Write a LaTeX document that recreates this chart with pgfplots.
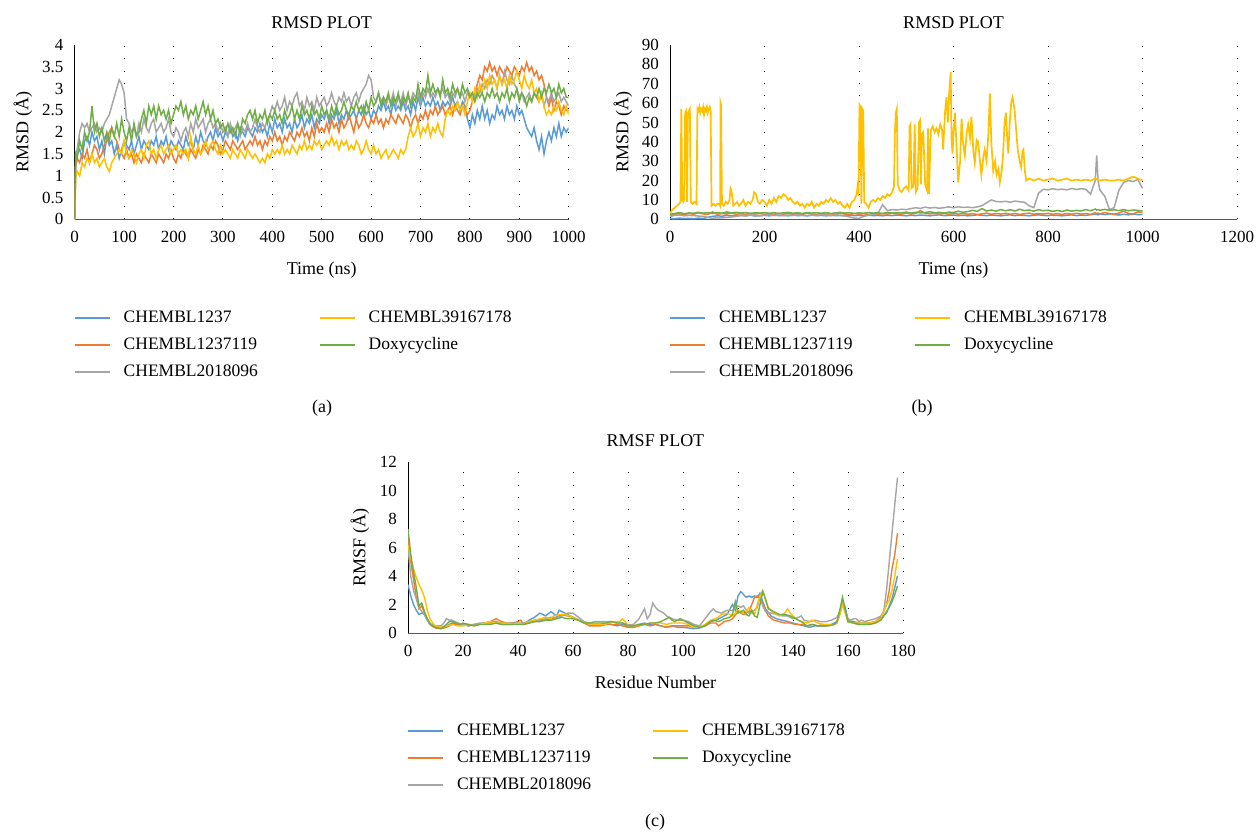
\documentclass[border=0pt]{standalone}
\usepackage{fontspec}
\setmainfont{Liberation Serif}
\usepackage{pgfplots}
\usepackage{pgfplotstable}
\pgfplotsset{compat=1.18}
\definecolor{cB}{HTML}{5B9BD5}
\definecolor{cO}{HTML}{ED7D31}
\definecolor{cG}{HTML}{A5A5A5}
\definecolor{cY}{HTML}{FFC000}
\definecolor{cD}{HTML}{70AD47}

% panel (a): t, CHEMBL1237, CHEMBL1237119, CHEMBL2018096, CHEMBL39167178, Doxycycline
\pgfplotstableread{
t b o g y d
0 0 0 0 0 0
2 1.3 1.2 1.5 1.0 1.5
5 1.5 1.4 1.6 1.1 1.4
10 1.6 1.3 2.0 1.0 1.8
15 1.4 1.5 2.2 1.3 1.6
20 1.8 1.4 2.1 1.2 2.0
25 1.9 1.6 2.2 1.4 1.8
30 1.7 1.3 2.0 1.3 2.0
35 2.0 1.5 2.1 1.5 2.6
40 1.8 1.7 2.2 1.3 2.0
45 1.9 1.6 2.0 1.4 2.2
50 1.6 1.4 2.1 1.2 1.9
55 1.8 1.5 2.0 1.3 2.1
60 1.5 1.7 2.2 1.4 1.8
65 1.9 1.8 2.3 1.2 2.0
70 1.7 2.0 2.4 1.1 1.8
75 1.8 2.1 2.6 1.3 2.1
80 1.5 1.9 2.8 1.4 1.9
85 1.7 1.8 3.0 1.5 2.2
90 1.4 1.6 3.2 1.6 1.9
95 1.6 1.5 3.1 1.5 2.3
100 1.8 1.4 2.9 1.8 2.0
105 1.7 1.6 2.3 1.5 1.8
110 1.6 1.4 2.2 1.4 2.1
115 1.8 1.5 2.0 1.6 1.8
120 1.5 1.3 2.1 1.5 2.2
125 1.7 1.5 1.9 1.3 1.9
130 1.9 1.4 2.2 1.5 2.0
135 1.6 1.3 2.0 1.6 2.3
140 1.8 1.5 2.3 1.4 2.5
145 1.7 1.4 2.1 1.7 2.2
150 1.6 1.3 2.0 1.8 2.6
155 1.8 1.5 2.2 1.5 2.4
160 1.7 1.4 2.3 1.6 2.6
165 1.9 1.3 2.0 1.4 2.3
170 1.6 1.5 2.1 1.6 2.6
175 1.8 1.4 2.2 1.7 2.4
180 1.7 1.3 2.0 1.5 2.5
185 1.9 1.5 2.1 1.6 2.3
190 1.6 1.4 2.3 1.7 2.5
195 1.8 1.6 2.0 1.5 2.2
200 1.7 1.4 1.9 1.6 2.4
205 1.6 1.3 2.1 1.7 2.6
210 1.8 1.5 2.0 1.5 2.5
215 1.7 1.4 1.8 1.6 2.7
220 1.6 1.6 2.0 1.5 2.4
225 1.9 1.5 2.1 1.6 2.6
230 1.7 1.4 1.9 1.4 2.3
235 1.8 1.6 2.2 1.9 2.5
240 1.6 1.5 2.0 1.6 2.4
245 1.9 1.4 2.3 1.5 2.6
250 1.7 1.6 2.1 1.7 2.3
255 2.0 1.5 2.2 1.5 2.5
260 1.8 1.7 2.3 1.6 2.7
265 1.7 1.6 2.0 1.8 2.4
270 1.9 1.5 2.2 1.6 2.6
275 2.0 1.7 2.3 1.7 2.3
280 1.8 1.6 2.1 1.8 2.5
285 2.1 1.8 2.2 1.6 2.2
290 1.9 1.7 2.0 1.5 2.3
295 2.0 1.5 2.2 1.7 2.1
300 1.8 1.6 2.0 1.5 2.2
305 2.0 1.8 2.1 1.6 2.0
310 1.9 1.7 1.9 1.5 2.2
315 2.1 1.6 2.2 1.4 2.0
320 1.9 1.8 2.0 1.6 2.1
325 2.0 1.7 2.1 1.5 1.9
330 1.8 1.6 2.2 1.4 2.2
335 2.1 1.7 1.9 1.6 2.0
340 2.0 1.8 2.1 1.5 2.3
345 1.9 1.6 2.0 1.4 2.2
350 2.1 1.7 2.2 1.6 2.4
355 2.0 1.8 2.0 1.5 2.5
360 1.9 1.7 2.1 1.4 2.3
365 2.1 1.9 2.3 1.5 2.5
370 2.0 1.7 2.1 1.4 2.2
375 2.2 1.8 2.0 1.3 2.4
380 2.0 1.6 2.2 1.4 2.3
385 2.1 1.8 2.1 1.3 2.5
390 1.9 1.7 2.3 1.5 2.2
395 2.2 1.9 2.4 1.4 2.4
400 2.0 1.8 2.6 1.6 2.3
405 2.3 2.0 2.5 1.5 2.5
410 2.1 1.8 2.7 1.6 2.3
415 2.2 1.9 2.5 1.5 2.4
420 2.0 1.7 2.6 1.7 2.2
425 2.3 1.9 2.8 1.5 2.5
430 2.1 1.8 2.5 1.6 2.3
435 2.2 2.0 2.7 1.5 2.4
440 2.0 1.9 2.6 1.7 2.6
445 2.3 1.8 2.8 1.6 2.3
450 2.1 2.0 2.9 1.5 2.5
455 2.2 1.9 2.6 1.7 2.3
460 2.4 2.1 2.7 1.6 2.6
465 2.1 1.9 2.5 1.8 2.4
470 2.3 2.0 2.8 1.6 2.5
475 2.2 1.8 2.6 1.7 2.3
480 2.4 2.1 2.7 1.6 2.6
485 2.1 1.9 2.5 1.8 2.4
490 2.3 2.2 2.8 1.7 2.5
495 2.2 2.0 2.6 1.8 2.3
500 2.4 2.1 2.7 1.6 2.6
505 2.3 2.0 2.8 1.7 2.4
510 2.5 2.2 2.6 1.8 2.5
515 2.2 2.0 2.7 1.7 2.3
520 2.4 2.3 2.9 1.9 2.6
525 2.3 2.1 2.7 1.7 2.4
530 2.5 2.2 2.6 1.8 2.6
535 2.2 2.0 2.8 1.6 2.4
540 2.4 2.3 2.7 1.8 2.5
545 2.3 2.1 2.9 1.7 2.7
550 2.5 2.2 2.7 1.8 2.5
555 2.3 2.4 2.8 1.6 2.4
560 2.4 2.2 2.6 1.7 2.6
565 2.5 2.0 2.8 1.6 2.5
570 2.3 2.3 2.9 1.8 2.7
575 2.5 2.1 2.7 1.7 2.5
580 2.4 2.2 2.9 1.5 2.6
585 2.6 2.4 3.0 1.6 2.4
590 2.4 2.2 3.1 1.8 2.7
595 2.5 2.1 3.3 1.6 2.5
600 2.3 2.3 3.2 1.5 2.8
605 2.5 2.2 2.8 1.7 2.6
610 2.4 2.4 2.7 1.5 2.7
615 2.6 2.2 2.9 1.6 2.9
620 2.5 2.3 2.7 1.4 2.6
625 2.7 2.1 2.8 1.5 2.8
630 2.5 2.3 2.6 1.6 2.7
635 2.6 2.2 2.8 1.4 2.9
640 2.4 2.4 2.7 1.5 2.6
645 2.7 2.3 2.9 1.6 2.8
650 2.5 2.2 2.6 1.5 2.7
655 2.6 2.4 2.8 1.4 2.9
660 2.5 2.3 2.7 1.6 2.6
665 2.7 2.2 2.9 1.5 2.8
670 2.5 2.4 2.6 1.6 2.7
675 2.6 2.3 2.8 1.9 2.9
680 2.4 2.1 2.7 2.1 2.6
685 2.7 2.3 2.9 1.9 2.8
690 2.5 2.4 2.8 2.0 2.7
695 2.8 2.2 2.9 2.2 3.1
700 2.6 2.4 2.7 1.9 2.8
705 2.8 2.3 2.9 2.1 3.0
710 2.6 2.5 2.8 2.0 2.9
715 2.7 2.3 3.0 2.2 3.3
720 2.6 2.5 2.8 1.9 2.9
725 2.8 2.4 2.9 2.1 3.1
730 2.6 2.6 2.8 2.0 2.9
735 2.7 2.4 3.0 2.2 3.0
740 2.5 2.5 2.9 2.0 2.8
745 2.7 2.6 3.0 1.9 3.2
750 2.6 2.4 2.8 2.3 2.9
755 2.7 2.5 2.9 2.5 3.0
760 2.6 2.6 2.7 2.4 2.8
765 2.8 2.4 2.9 2.6 3.1
770 2.6 2.6 2.8 2.5 2.9
775 2.7 2.5 3.0 2.7 3.0
780 2.5 2.4 2.8 2.5 2.8
785 2.7 2.6 2.9 2.6 3.1
790 2.6 2.5 2.7 2.4 2.9
795 2.3 2.4 2.9 2.7 3.0
800 2.1 2.5 2.8 2.9 2.8
805 2.4 2.7 2.9 2.7 2.9
810 2.2 2.9 2.8 3.0 2.7
815 2.5 3.1 3.0 2.8 2.9
820 2.3 3.3 2.9 3.1 2.8
825 2.6 3.2 3.1 2.9 2.9
830 2.3 3.5 3.0 3.2 2.7
835 2.5 3.4 3.2 3.0 2.9
840 2.2 3.6 3.1 3.3 2.8
845 2.4 3.4 3.3 3.1 3.0
850 2.3 3.5 3.2 3.2 2.8
855 2.6 3.3 3.0 3.0 2.9
860 2.4 3.5 3.3 3.3 2.7
865 2.5 3.4 3.1 3.1 2.9
870 2.3 3.3 3.4 3.2 2.8
875 2.6 3.5 3.2 3.0 3.0
880 2.4 3.4 3.1 3.3 2.7
885 2.5 3.3 3.3 3.1 2.9
890 2.3 3.5 3.1 3.2 2.8
895 2.6 3.4 3.0 3.4 3.0
900 2.4 3.3 2.8 3.2 2.7
905 2.5 3.5 2.9 3.0 2.9
910 2.3 3.4 2.7 3.3 2.8
915 2.1 3.6 2.8 3.1 2.6
920 2.0 3.4 2.9 3.0 2.8
925 1.9 3.5 2.7 3.2 2.7
930 2.1 3.3 2.9 2.9 2.9
935 1.8 3.4 2.8 3.0 2.8
940 1.6 3.2 2.7 2.7 3.0
945 1.9 3.3 2.9 2.9 2.8
950 1.5 3.1 2.6 2.6 3.0
955 1.8 2.8 2.8 2.4 2.9
960 2.0 2.6 2.7 2.5 3.1
965 1.8 2.8 2.9 2.4 2.9
970 2.1 2.5 2.7 2.6 3.0
975 1.9 2.7 2.8 2.5 2.8
980 2.2 2.6 2.9 2.7 3.1
985 1.9 2.4 2.7 2.5 2.9
990 2.1 2.6 2.8 2.4 3.0
995 2.0 2.5 2.7 2.6 2.8
1000 2.1 2.5 2.6 2.4 2.8
}\rmsdA

% panel (b): t, CHEMBL1237, CHEMBL1237119, CHEMBL2018096, Doxycycline
\pgfplotstableread{
t b o g d
0 0.5 2.0 1.5 2.5
10 0.3 2.5 2.0 3.0
20 0.6 2.8 2.2 3.5
30 0.4 2.4 1.8 2.9
40 0.5 3.0 2.0 3.3
50 0.3 2.6 1.9 3.1
60 0.6 3.4 1.7 3.6
70 0.4 2.8 1.5 3.2
80 1.0 2.5 1.0 3.4
90 1.5 3.8 0.5 3.0
100 1.8 2.6 0.8 3.5
110 1.6 3.0 0.7 3.1
120 2.0 2.7 1.0 3.8
130 1.8 3.2 1.2 3.3
140 1.7 2.6 1.5 3.6
150 2.0 2.9 2.0 3.2
160 1.8 2.5 1.8 3.5
170 2.1 3.1 2.2 3.0
180 1.7 2.7 2.0 3.4
190 1.9 3.0 1.8 3.2
200 2.0 2.6 2.1 3.5
210 1.8 2.9 2.3 3.1
220 2.1 2.5 2.0 3.4
230 1.9 3.1 2.2 3.0
240 2.0 2.7 1.9 3.3
250 1.8 3.0 2.2 3.6
260 2.1 2.6 2.0 3.1
270 1.9 2.9 2.3 3.4
280 2.0 2.5 2.1 3.0
290 1.8 3.2 1.9 3.5
300 2.1 2.7 2.2 3.2
310 1.9 2.4 2.0 3.4
320 2.0 3.0 2.3 3.1
330 1.8 2.6 2.1 3.5
340 2.1 2.9 1.9 3.0
350 1.9 2.5 2.2 3.3
360 2.0 3.1 2.0 3.6
370 1.8 2.7 1.8 3.2
380 2.1 2.4 1.2 3.4
390 1.9 3.0 0.6 3.0
400 2.0 2.6 0.5 3.3
410 1.8 2.9 1.5 3.1
420 2.1 2.5 2.2 3.5
430 1.9 3.0 2.5 3.2
440 2.0 2.6 3.0 3.4
450 1.8 2.9 7.5 3.0
460 2.1 2.7 4.5 3.6
470 1.9 3.1 5.0 3.2
480 2.2 2.8 4.8 3.5
490 2.0 2.6 5.2 3.3
500 1.8 3.2 5.0 3.7
510 2.1 2.7 5.5 3.2
520 1.9 3.0 6.0 3.6
530 2.2 4.5 5.6 3.3
540 2.0 3.0 6.3 3.5
550 1.8 2.8 5.8 3.9
560 2.1 3.1 6.1 3.4
570 2.3 2.7 5.7 3.6
580 1.9 3.0 6.0 3.2
590 2.0 2.6 6.4 3.7
600 2.2 3.1 5.9 3.5
610 1.9 2.7 6.5 4.2
620 2.1 3.0 6.1 3.6
630 1.8 2.6 6.3 4.0
640 2.0 2.9 6.0 4.6
650 2.3 2.5 6.4 4.1
660 2.1 2.8 7.0 5.5
670 1.9 3.2 8.5 4.3
680 2.2 2.6 10.0 4.8
690 2.0 3.0 9.2 4.2
700 1.8 2.7 9.0 5.0
710 2.1 3.1 9.3 4.4
720 2.3 2.6 8.8 4.9
730 1.9 3.0 9.4 4.3
740 2.2 2.5 9.1 5.2
750 2.0 2.9 8.8 4.5
760 1.8 3.2 7.0 4.8
770 2.1 2.6 6.0 4.2
780 2.3 3.0 13.5 5.0
790 2.0 2.7 15.5 4.4
800 1.9 3.1 15.2 4.7
810 2.2 2.6 15.8 4.1
820 2.0 2.9 15.3 4.6
830 1.8 2.5 15.6 4.0
840 2.1 3.0 15.2 4.8
850 2.3 2.6 15.9 4.2
860 1.9 3.1 15.4 4.6
870 2.2 2.7 15.8 4.3
880 2.0 3.0 15.5 5.0
890 2.4 2.5 13.0 4.4
900 2.6 3.4 20.0 5.3
903 2.5 3.0 33.0 4.8
906 2.3 3.2 20.0 5.0
910 2.7 2.8 15.0 4.7
920 2.4 3.5 12.0 5.1
930 2.8 3.0 5.0 4.6
940 2.5 2.6 6.0 4.9
950 2.2 3.2 15.0 4.5
960 2.6 4.2 19.0 5.0
970 2.3 3.0 20.0 4.4
980 2.7 2.7 19.5 4.8
990 2.4 3.8 20.5 4.6
1000 2.5 3.5 16.0 4.3
}\rmsdB

\pgfplotsset{
  common/.style={
    scale only axis,
    axis x line=bottom, axis y line=left,
    axis line style={-, line width=0.9pt},
    x axis line style={draw=black!65},
    y axis line style={draw=black},
    major tick length=0pt,
    tick style={draw=none},
    xmajorgrids=true, ymajorgrids=false,
    major x grid style={black, line width=0.9pt, dash pattern=on 0.9pt off 11.4pt},
    /pgf/number format/assume math mode=true,
    /pgf/number format/set thousands separator={},
    tick label style={font=\fontsize{17}{20}\selectfont, inner sep=0pt},
    xticklabel style={anchor=center, yshift=-18pt},
    yticklabel style={anchor=east, xshift=-11pt},
    title style={at={(0.5,1)}, anchor=center, yshift=16pt, font=\fontsize{18}{21}\selectfont},
    label style={font=\fontsize{18}{21}\selectfont},
    xlabel style={at={(0.5,0)}, anchor=center, yshift=-51pt},
    legend columns=2,
    legend cell align=left,
    legend image code/.code={\fill (0pt,-1pt) rectangle (35pt,1pt);},
    legend style={anchor=north west, draw=none, fill=none, inner sep=0pt, outer sep=0pt,
      font=\fontsize{17.5}{21}\selectfont, row sep=11pt,
      nodes={inner sep=0pt, text height=12.5pt, text depth=3.5pt, text width=196pt, align=left},
      /tikz/every odd column/.append style={column sep=14pt},
      /tikz/every even column/.append style={column sep=0pt}},
  },
}

\begin{document}
\begin{tikzpicture}
\useasboundingbox (0,0) rectangle (1256pt,831pt);

% ---------------- (a)
\begin{axis}[common,
  at={(74.7pt,611.7pt)}, anchor=south west,
  width=494pt, height=174.3pt,
  xmin=0, xmax=1000, ymin=0, ymax=4,
  xtick={0,100,...,1000}, ytick={0,0.5,1,1.5,2,2.5,3,3.5,4},
  title={RMSD PLOT}, xlabel={Time (ns)}, ylabel={RMSD (Å)},
  ylabel style={at={(-0.105,0.5)}, anchor=center},
  legend style={at={(0,-0.519)}},
]
\addplot[cB, line width=1.5pt, forget plot] table[x=t, y=b]{\rmsdA};
\addplot[cO, line width=1.5pt, forget plot] table[x=t, y=o]{\rmsdA};
\addplot[cG, line width=1.5pt, forget plot] table[x=t, y=g]{\rmsdA};
\addplot[cY, line width=1.5pt, forget plot] table[x=t, y=y]{\rmsdA};
\addplot[cD, line width=1.5pt, forget plot] table[x=t, y=d]{\rmsdA};
\addlegendimage{fill=cB, draw=none}\addlegendentry{CHEMBL1237}
\addlegendimage{fill=cY, draw=none}\addlegendentry{CHEMBL39167178}
\addlegendimage{fill=cO, draw=none}\addlegendentry{CHEMBL1237119}
\addlegendimage{fill=cD, draw=none}\addlegendentry{Doxycycline}
\addlegendimage{fill=cG, draw=none}\addlegendentry{CHEMBL2018096}
\end{axis}

% ---------------- (b)
\begin{axis}[common,
  at={(670pt,611.7pt)}, anchor=south west,
  width=567pt, height=174.3pt,
  xmin=0, xmax=1200, ymin=0, ymax=90,
  xtick={0,200,...,1200}, ytick={0,10,...,90},
  title={RMSD PLOT}, xlabel={Time (ns)}, ylabel={RMSD (Å)},
  ylabel style={at={(-0.083,0.5)}, anchor=center},
  legend style={at={(0,-0.519)}},
]
\addplot[cB, line width=1.5pt, forget plot] table[x=t, y=b]{\rmsdB};
\addplot[cO, line width=1.5pt, forget plot] table[x=t, y=o]{\rmsdB};
\addplot[cG, line width=1.5pt, forget plot] table[x=t, y=g]{\rmsdB};
\addplot[cY, line width=1.7pt, forget plot] coordinates {
(0,3) (5,5) (10,6) (15,7) (20,8) (22,9) (24,57) (26,10) (28,9) (30,10) (32,55) (34,56) (36,9) (38,55) (40,56) (42,57) (44,9) (48,8) (52,9) (56,8) (58,57) (60,56) (62,58) (64,55) (66,57) (68,56) (70,58) (72,54) (74,57) (76,56) (78,58) (80,55) (82,57) (84,58) (86,56) (88,7) (92,8) (96,7) (100,8) (104,8) (106,7) (107,60) (108,59) (110,8) (114,7) (118,9) (122,8) (126,10) (128,16) (130,15) (134,7) (138,8) (142,9) (146,7) (150,8) (155,10) (160,7) (165,9) (170,8) (175,10) (178,14) (182,13) (186,9) (190,8) (195,10) (200,9) (205,7) (210,10) (215,8) (220,11) (225,9) (230,12) (235,11) (240,13) (245,12) (250,10) (255,11) (260,9) (265,8) (270,9) (275,7) (280,8) (285,6) (290,8) (295,7) (300,9) (305,6) (310,8) (315,7) (320,9) (325,8) (330,10) (335,9) (340,11) (345,9) (350,10) (355,8) (360,9) (365,7) (370,6) (375,8) (380,6) (385,9) (390,10) (395,13) (397,17) (399,12) (401,59) (403,58) (405,8) (407,57) (409,56) (411,9) (415,8) (420,6) (425,9) (430,10) (435,9) (440,11) (445,10) (450,12) (455,11) (460,13) (465,12) (470,14) (474,17) (476,45) (478,55) (480,57) (482,18) (486,15) (490,14) (495,16) (500,17) (505,15) (507,48) (509,49) (511,16) (515,17) (518,49) (520,14) (524,16) (527,50) (529,51) (531,18) (533,44) (536,45) (540,18) (544,15) (546,47) (548,13) (552,46) (556,48) (560,45) (564,47) (568,44) (572,49) (576,46) (578,36) (582,55) (585,63) (588,50) (591,66) (594,76) (596,40) (598,34) (600,45) (603,55) (606,40) (610,19) (614,30) (617,52) (620,40) (624,33) (628,45) (631,49) (635,42) (638,53) (642,35) (645,29) (649,41) (652,40) (656,30) (659,23) (663,32) (666,36) (670,30) (674,45) (677,65) (680,40) (684,25) (688,30) (691,23) (695,26) (698,19) (702,25) (705,34) (708,50) (711,55) (714,40) (716,34) (719,50) (722,60) (725,63) (729,57) (733,45) (736,36) (740,30) (743,27) (746,35) (748,36) (751,25) (754,20) (760,21) (770,20) (780,21) (790,20) (800,20.5) (810,21) (820,20) (830,20.5) (840,21) (850,20) (860,20.5) (870,20) (880,20.5) (890,20) (900,21) (910,20) (920,20.5) (930,20) (940,20) (950,20.5) (960,20) (970,21) (980,22) (990,21) (1000,20)};
\addplot[cD, line width=1.5pt, forget plot] table[x=t, y=d]{\rmsdB};
\addlegendimage{fill=cB, draw=none}\addlegendentry{CHEMBL1237}
\addlegendimage{fill=cY, draw=none}\addlegendentry{CHEMBL39167178}
\addlegendimage{fill=cO, draw=none}\addlegendentry{CHEMBL1237119}
\addlegendimage{fill=cD, draw=none}\addlegendentry{Doxycycline}
\addlegendimage{fill=cG, draw=none}\addlegendentry{CHEMBL2018096}
\end{axis}

% ---------------- (c)
\begin{axis}[common,
  at={(408pt,198pt)}, anchor=south west,
  width=495pt, height=171pt,
  xmin=0, xmax=180, ymin=0, ymax=12,
  xtick={0,20,...,180}, ytick={0,2,...,12},
  title={RMSF PLOT}, xlabel={Residue Number}, ylabel={RMSF (Å)},
  title style={yshift=-1pt},
  xlabel style={yshift=2pt},
  ylabel style={at={(-0.097,0.5)}, anchor=center},
  legend style={at={(0,-0.529)}},
]
\addplot[cB, line width=1.4pt, forget plot] coordinates {
(0,3.4)(1,2.6)(2,2.0)(3,1.6)(4,1.3)(5,1.4)(6,1.3)(7,0.9)(8,0.6)(9,0.5)(10,0.4)(12,0.35)(14,0.5)(16,0.7)(18,0.6)(20,0.6)(22,0.5)(24,0.6)(26,0.6)(28,0.7)(30,0.7)(32,0.8)(34,0.6)(36,0.6)(38,0.6)(40,0.7)(42,0.6)(44,0.9)(46,1.1)(48,1.4)(50,1.2)(52,1.5)(54,1.2)(55,1.6)(57,1.4)(59,1.2)(61,1.0)(63,0.8)(65,0.7)(67,0.6)(70,0.6)(72,0.7)(74,0.6)(76,0.5)(78,0.6)(80,0.5)(82,0.4)(84,0.6)(86,0.7)(88,0.6)(90,0.6)(92,0.5)(94,0.4)(96,0.5)(98,0.4)(100,0.4)(102,0.35)(104,0.3)(106,0.35)(108,0.5)(110,0.8)(112,0.9)(114,1.1)(116,1.3)(118,2.0)(119,1.6)(120,2.6)(121,2.9)(122,2.7)(123,2.5)(124,2.6)(125,2.5)(126,2.6)(127,2.5)(128,2.8)(129,2.2)(130,1.7)(132,1.2)(134,1.0)(136,0.9)(138,0.8)(140,0.7)(142,0.6)(144,0.5)(146,0.4)(148,0.5)(150,0.5)(152,0.5)(154,0.6)(156,0.8)(157,1.4)(158,2.3)(159,1.8)(160,0.9)(162,0.8)(164,0.7)(166,0.7)(168,0.7)(170,0.8)(172,1.0)(174,1.4)(176,2.4)(178,4.0)};
\addplot[cO, line width=1.4pt, forget plot] coordinates {
(0,6.8)(1,5.0)(2,3.8)(3,2.5)(4,1.7)(5,1.9)(6,1.4)(7,1.0)(8,0.6)(9,0.45)(10,0.35)(12,0.3)(14,0.4)(16,0.6)(18,0.6)(20,0.6)(22,0.5)(24,0.6)(26,0.6)(28,0.7)(30,0.8)(32,1.0)(34,0.8)(36,0.7)(38,0.7)(40,0.8)(41,0.9)(42,0.6)(44,0.7)(46,0.8)(48,0.9)(50,0.9)(52,1.0)(54,1.1)(56,1.3)(58,1.2)(60,1.1)(62,0.9)(64,0.7)(66,0.5)(68,0.5)(70,0.5)(72,0.6)(74,0.6)(76,0.6)(78,0.5)(80,0.4)(82,0.4)(84,0.5)(86,0.6)(88,0.5)(90,0.6)(92,0.5)(94,0.4)(96,0.5)(98,0.5)(100,0.5)(102,0.5)(104,0.4)(106,0.4)(108,0.5)(110,0.7)(112,0.7)(113,0.5)(115,0.8)(117,0.9)(118,1.0)(120,1.5)(122,1.3)(124,1.5)(125,2.0)(126,2.5)(127,2.6)(128,2.4)(129,2.1)(130,1.6)(131,1.2)(133,0.9)(135,0.8)(137,0.7)(139,0.7)(141,0.6)(143,0.6)(145,0.5)(147,0.6)(149,0.5)(151,0.6)(153,0.6)(155,0.6)(156,0.8)(157,1.3)(158,2.0)(159,1.5)(160,0.8)(162,0.7)(164,0.6)(166,0.6)(168,0.7)(170,0.8)(172,1.1)(174,2.0)(175,3.0)(176,4.5)(177,5.5)(178,7.0)};
\addplot[cG, line width=1.4pt, forget plot] coordinates {
(0,6.0)(1,4.0)(2,3.0)(3,2.4)(4,1.8)(5,1.5)(6,1.3)(7,0.9)(8,0.6)(10,0.5)(12,0.5)(13,0.7)(14,1.0)(15,0.9)(16,0.9)(18,0.7)(20,0.6)(22,0.6)(24,0.6)(26,0.7)(28,0.7)(30,0.8)(32,0.8)(34,0.7)(36,0.7)(38,0.7)(40,0.7)(42,0.7)(44,0.8)(46,0.9)(48,0.9)(50,1.0)(52,1.1)(54,1.1)(56,1.2)(58,1.4)(60,1.4)(62,1.1)(64,0.8)(66,0.7)(68,0.8)(70,0.8)(72,0.8)(74,0.8)(76,0.7)(78,0.7)(80,0.6)(82,0.6)(84,1.0)(86,1.7)(87,1.0)(88,1.3)(89,2.1)(90,1.8)(91,1.6)(92,1.5)(93,1.4)(94,1.2)(96,1.0)(98,0.9)(100,0.9)(102,0.8)(104,0.6)(106,0.5)(108,1.0)(110,1.5)(111,1.7)(112,1.5)(114,1.4)(116,1.6)(118,1.6)(120,1.9)(121,1.8)(122,1.9)(123,1.6)(124,1.4)(126,1.6)(127,1.8)(128,2.5)(129,1.9)(130,1.5)(132,1.4)(134,1.3)(136,1.2)(138,1.2)(140,1.0)(142,1.1)(143,1.2)(144,0.9)(146,0.8)(148,0.9)(150,0.8)(152,0.8)(154,0.9)(156,1.1)(157,1.5)(158,2.2)(159,1.6)(160,1.0)(161,0.9)(162,1.0)(163,1.0)(164,0.8)(165,0.9)(166,0.8)(168,0.9)(170,1.0)(172,1.2)(173,1.5)(174,3.0)(175,5.0)(176,7.0)(177,9.0)(178,10.9)};
\addplot[cY, line width=1.4pt, forget plot] coordinates {
(0,6.2)(1,5.2)(2,4.5)(3,3.9)(4,3.4)(5,3.0)(6,2.5)(7,1.6)(8,1.0)(9,0.7)(10,0.5)(12,0.4)(14,0.5)(16,0.6)(18,0.5)(20,0.5)(22,0.6)(24,0.5)(26,0.6)(28,0.7)(30,0.8)(32,0.7)(34,0.7)(36,0.7)(38,0.6)(40,0.7)(42,0.6)(44,0.8)(46,0.9)(48,1.0)(50,1.1)(52,1.0)(53,1.2)(55,1.3)(57,1.3)(59,1.2)(61,1.0)(63,0.8)(65,0.7)(67,0.6)(69,0.6)(71,0.6)(73,0.7)(75,0.8)(77,0.8)(78,1.0)(79,0.8)(80,0.5)(82,0.5)(84,0.6)(86,0.6)(88,0.7)(90,0.7)(92,0.7)(94,0.6)(96,0.7)(98,0.7)(100,0.7)(102,0.6)(104,0.4)(106,0.4)(108,0.6)(110,0.9)(112,1.0)(114,1.3)(116,1.4)(118,1.2)(120,1.6)(121,1.5)(122,1.4)(123,1.5)(124,1.8)(125,1.4)(126,1.3)(127,2.0)(128,2.6)(129,3.0)(130,2.3)(131,1.8)(133,1.4)(135,1.2)(137,1.4)(138,1.7)(139,1.4)(141,1.0)(143,0.8)(145,0.7)(147,0.9)(149,0.7)(151,0.6)(153,0.6)(155,0.6)(156,0.7)(157,1.3)(158,2.0)(159,1.4)(160,0.8)(162,0.7)(164,0.7)(166,0.7)(168,0.7)(170,0.8)(172,1.0)(174,2.0)(175,2.3)(176,3.0)(177,4.0)(178,5.2)};
\addplot[cD, line width=1.4pt, forget plot] coordinates {
(0,7.3)(1,5.5)(2,4.3)(3,3.2)(4,1.9)(5,2.1)(6,1.5)(7,1.0)(8,0.7)(9,0.5)(10,0.4)(12,0.3)(14,0.6)(15,0.8)(16,0.8)(18,0.7)(19,0.6)(20,0.7)(22,0.6)(24,0.5)(26,0.6)(28,0.6)(30,0.6)(32,0.7)(34,0.6)(36,0.6)(38,0.6)(40,0.6)(42,0.6)(44,0.7)(46,0.8)(48,0.8)(50,0.9)(52,0.9)(54,1.0)(56,1.1)(58,1.0)(60,1.0)(62,0.9)(64,0.7)(66,0.7)(68,0.7)(70,0.7)(72,0.7)(74,0.8)(76,0.7)(78,0.7)(80,0.5)(82,0.5)(84,0.6)(86,0.6)(88,0.7)(90,0.7)(92,0.8)(93,0.9)(95,1.1)(96,0.9)(97,0.8)(98,0.9)(99,1.0)(100,0.9)(102,0.7)(104,0.5)(106,0.4)(108,0.5)(110,0.8)(111,0.9)(113,0.8)(115,1.0)(117,1.1)(118,1.3)(119,2.2)(120,1.4)(121,1.5)(122,1.6)(123,1.3)(124,1.2)(125,1.6)(126,1.2)(127,1.1)(128,2.0)(129,2.9)(130,2.4)(131,1.7)(133,1.5)(135,1.3)(137,1.3)(139,1.2)(141,1.0)(143,0.8)(145,0.5)(147,0.6)(149,0.5)(151,0.5)(153,0.5)(155,0.6)(156,0.8)(157,1.6)(158,2.5)(159,1.6)(160,0.8)(162,0.7)(164,0.6)(166,0.6)(168,0.6)(170,0.7)(172,0.9)(174,1.5)(175,1.8)(176,2.2)(177,2.7)(178,3.3)};
\addlegendimage{fill=cB, draw=none}\addlegendentry{CHEMBL1237}
\addlegendimage{fill=cY, draw=none}\addlegendentry{CHEMBL39167178}
\addlegendimage{fill=cO, draw=none}\addlegendentry{CHEMBL1237119}
\addlegendimage{fill=cD, draw=none}\addlegendentry{Doxycycline}
\addlegendimage{fill=cG, draw=none}\addlegendentry{CHEMBL2018096}
\end{axis}

\node[font=\fontsize{18}{21}\selectfont] at (322pt,423pt) {(a)};
\node[font=\fontsize{18}{21}\selectfont] at (922pt,423pt) {(b)};
\node[font=\fontsize{18}{21}\selectfont] at (655pt,9pt) {(c)};
\end{tikzpicture}
\end{document}
